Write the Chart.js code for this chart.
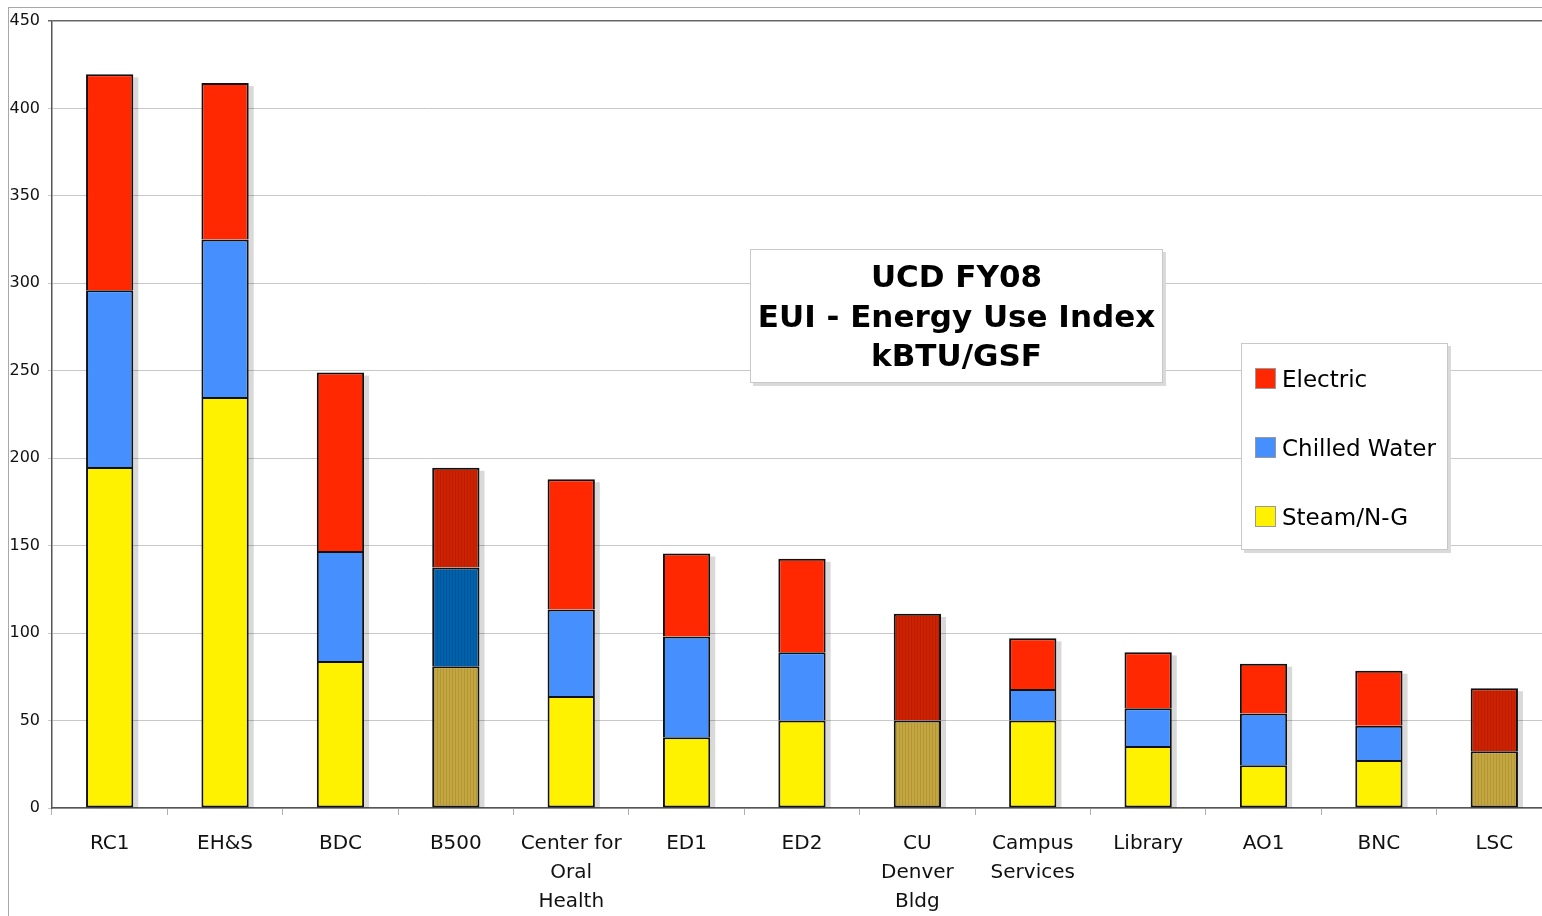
<!DOCTYPE html>
<html>
<head>
<meta charset="utf-8">
<script src="https://cdn.jsdelivr.net/npm/chart.js@4.4.0/dist/chart.umd.min.js"></script>
<style>
html, body { margin: 0; padding: 0; background: #fff; }
#wrap { position: relative; width: 1542px; height: 916px; overflow: hidden; font-family: "DejaVu Sans", Verdana, sans-serif; color: #000; }
#frame { position: absolute; left: 8px; top: 7px; width: 2000px; height: 2000px; border-left: 1px solid #a8a8a8; border-top: 1px solid #a8a8a8; }
canvas { position: absolute; left: 0; top: 0; }
#title { position: absolute; left: 750px; top: 249px; width: 413px; height: 134px; box-sizing: border-box; border: 1px solid #c8c8c8; background: #fff; box-shadow: 3px 3px 0 #dadada; font-weight: bold; font-size: 31px; line-height: 39.5px; text-align: center; padding-top: 7px; }
#legend { position: absolute; left: 1241px; top: 343px; width: 207px; height: 207px; box-sizing: border-box; border: 1px solid #c8c8c8; background: #fff; box-shadow: 3px 3px 0 #dadada; font-size: 23px; }
#legend .row { display: flex; align-items: center; height: 69px; padding-left: 13px; }
#legend .sw { width: 21px; height: 21px; box-sizing: border-box; border: 1px solid #999; margin-right: 6px; }
</style>
</head>
<body>
<div id="wrap">
  <div id="frame"></div>
  <canvas id="euiChart" width="1552" height="916"></canvas>
  <div id="title">UCD FY08<br>EUI - Energy Use Index<br>kBTU/GSF</div>
  <div id="legend"></div>
</div>
<script>
const categories = [['RC1'], ['EH&S'], ['BDC'], ['B500'], ['Center for', 'Oral', 'Health'], ['ED1'], ['ED2'],
    ['CU', 'Denver', 'Bldg'], ['Campus', 'Services'], ['Library'], ['AO1'], ['BNC'], ['LSC']];
const steamValues = [195, 235, 84, 81, 64, 40.5, 50, 50, 50, 35.5, 24.5, 27.5, 32.5];
const chilledValues = [101, 90, 63, 56.5, 49.5, 57.5, 39, 0, 18, 21.5, 29.5, 19.5, 0];
const electricValues = [123.5, 89.5, 102, 57, 74.5, 47.5, 53.5, 61, 29, 32, 28.5, 31.5, 36];
const yTicks = [0, 50, 100, 150, 200, 250, 300, 350, 400, 450];

// bars drawn in the darker, striped shade
const shadedBars = [3, 7, 12];

function stripes(base, line) {
    const c = document.createElement('canvas');
    c.width = 3; c.height = 4;
    const g = c.getContext('2d');
    g.fillStyle = base; g.fillRect(0, 0, 3, 4);
    g.fillStyle = line; g.fillRect(2, 0, 1, 4);
    return g.createPattern(c, 'repeat');
}

function colorsFor(normal, base, line) {
    const pat = stripes(base, line);
    return categories.map((c, i) => shadedBars.includes(i) ? pat : normal);
}

const legendEl = document.getElementById('legend');

const barShadow = {
    id: 'barShadow',
    beforeDatasetsDraw(chart) {
        const ctx = chart.ctx;
        const metas = chart.getSortedVisibleDatasetMetas();
        const first = metas[0], last = metas[metas.length - 1];
        ctx.save();
        ctx.fillStyle = 'rgba(0,0,0,0.15)';
        last.data.forEach((bar, i) => {
            const p = bar.getProps(['x', 'y', 'width'], true);
            const base = first.data[i].getProps(['base'], true).base;
            ctx.fillRect(p.x + p.width / 2, p.y + 3, 5, base - p.y - 3);
        });
        ctx.restore();
    }
};

// upper segments share the line on top of the one below
const upperBorder = { top: 2, left: 2, right: 2, bottom: 0 };

const ctx = document.getElementById('euiChart').getContext('2d');
const euiChart = new Chart(ctx, {
    type: 'bar',
    data: {
        labels: categories,
        datasets: [{
            label: 'Steam/N-G',
            data: steamValues,
            backgroundColor: colorsFor('#fff200', '#c4a640', '#b39636'),
            borderWidth: 2,
            legendColor: '#fff200'
        }, {
            label: 'Chilled Water',
            data: chilledValues,
            backgroundColor: colorsFor('#458fff', '#0062aa', '#00559a'),
            borderWidth: upperBorder,
            legendColor: '#458fff'
        }, {
            label: 'Electric',
            data: electricValues,
            backgroundColor: colorsFor('#ff2800', '#cc2200', '#bb1e00'),
            borderWidth: upperBorder,
            legendColor: '#ff2800'
        }]
    },
    options: {
        responsive: false,
        animation: false,
        devicePixelRatio: 1,
        layout: { padding: { top: 21, right: 0, left: 0, bottom: 0 } },
        datasets: {
            bar: {
                borderColor: '#111',
                borderSkipped: false,
                categoryPercentage: 1,
                barPercentage: 0.41
            }
        },
        plugins: {
            legend: { display: false },
            tooltip: { enabled: false }
        },
        scales: {
            x: {
                stacked: true,
                afterFit: (s) => { s.height = 108; },
                grid: { offset: true, drawOnChartArea: false, tickLength: 7, color: '#b0b0b0' },
                border: { color: '#555', width: 1.5 },
                ticks: {
                    color: '#111', maxRotation: 0, autoSkip: false, padding: 14,
                    font: { family: '"DejaVu Sans", Verdana, sans-serif', size: 20, lineHeight: 1.45 }
                }
            },
            y: {
                stacked: true,
                min: 0, max: 450,
                afterFit: (s) => { s.width = 52; },
                afterBuildTicks: (s) => { s.ticks = yTicks.map(v => ({ value: v })); },
                grid: {
                    tickLength: 4,
                    color: (c) => c.tick && c.tick.value === 450 ? '#666' : '#c8c8c8',
                    lineWidth: (c) => c.tick && c.tick.value === 450 ? 1.5 : 1
                },
                border: { color: '#555', width: 1.5 },
                ticks: {
                    color: '#111', padding: 8,
                    font: { family: '"DejaVu Sans", Verdana, sans-serif', size: 16 }
                }
            }
        }
    },
    plugins: [barShadow]
});

euiChart.data.datasets.slice().reverse().forEach(ds => {
    const row = document.createElement('div');
    row.className = 'row';
    row.innerHTML = '<span class="sw" style="background:' + ds.legendColor + '"></span><span></span>';
    row.lastChild.textContent = ds.label;
    legendEl.appendChild(row);
});
</script>
</body>
</html>
